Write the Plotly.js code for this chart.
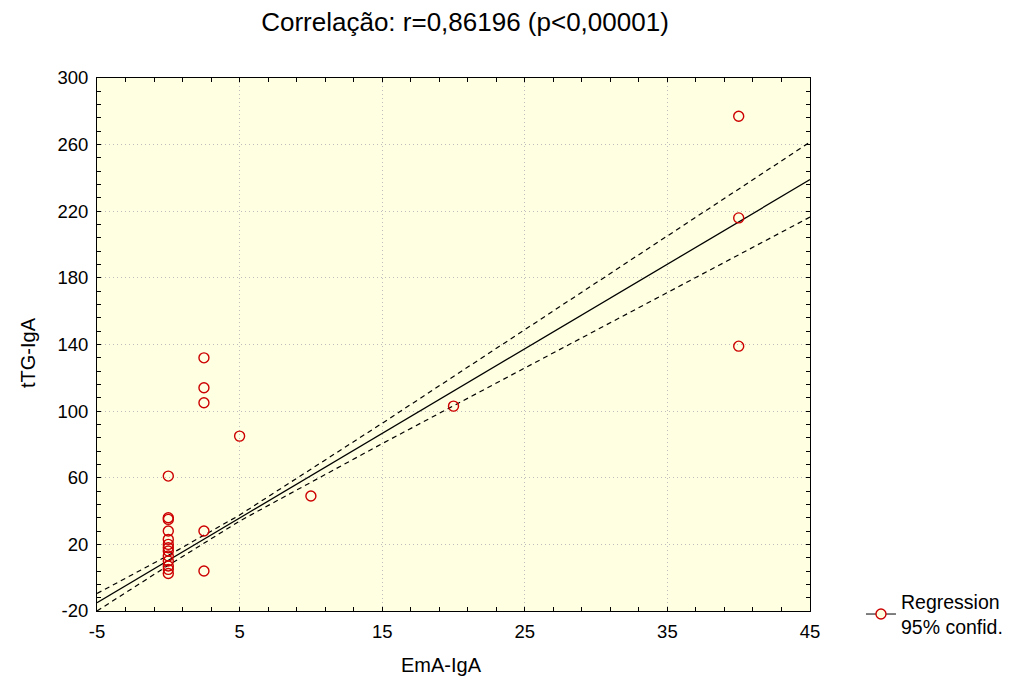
<!DOCTYPE html>
<html>
<head>
<meta charset="utf-8">
<script src="https://cdn.plot.ly/plotly-3.0.1.min.js"></script>
<style>html,body{margin:0;padding:0;background:#fff;}#chart{width:1019px;height:680px;}</style>
</head>
<body>
<div id="chart"></div>
<script>
// Observed data (EmA-IgA vs tTG-IgA)
const emaX = [0,0,0,0,0,0,0,0,0,0,0,0,0, 2.5,2.5,2.5,2.5,2.5, 5, 10, 20, 40,40,40];
const ttgY = [61,36,35,28,23,20,18,16,13,10,7,5,2.5, 132,114,105,28,4, 85, 49, 103, 277,216,139];

// Regression line (read at axis ends)
const regX = [-5, 45];
const regY = [-15, 239];

// 95% confidence band
const bandX = [-5, 0, 5, 15, 25, 35, 45];
const bandUpper = [-9.5, 13.4, 37.6, 92.7, 148.9, 205.2, 261.5];
const bandLower = [-20, 7.4, 34.0, 80.5, 125.9, 171.2, 216.5];

const xTicks = [-5, 5, 15, 25, 35, 45];
const yTicks = [-20, 20, 60, 100, 140, 180, 220, 260, 300];

const titleText = 'Correlação: r=0,86196 (p<0,00001)';
const xTitle = 'EmA-IgA';
const yTitle = 'tTG-IgA';
const legendText = 'Regression<br>95% confid.';

const FONT = 'Liberation Sans, Arial, sans-serif';
const red = '#cc0000';

const traces = [
  {x: bandX, y: bandUpper, mode: 'lines', line: {color: '#000', width: 1.2, dash: '5px,4px'}, showlegend: false, hoverinfo: 'skip'},
  {x: bandX, y: bandLower, mode: 'lines', line: {color: '#000', width: 1.2, dash: '5px,4px'}, showlegend: false, hoverinfo: 'skip'},
  {x: regX, y: regY, mode: 'lines', line: {color: '#000', width: 1.3}, showlegend: false},
  {x: emaX, y: ttgY, mode: 'markers', marker: {symbol: 'circle-open', size: 10, color: red, line: {width: 1.4}}, showlegend: false},
  {x: [null], y: [null], mode: 'lines+markers', name: legendText,
   line: {color: '#000', width: 1}, marker: {symbol: 'circle', size: 10, color: '#ffffe0', line: {color: red, width: 1.4}}, showlegend: true}
];

const layout = {
  width: 1019, height: 680,
  margin: {l: 97, r: 209, t: 78, b: 69, autoexpand: false},
  paper_bgcolor: '#ffffff',
  plot_bgcolor: '#ffffe1',
  font: {family: FONT, size: 18.5, color: '#000'},
  title: {text: titleText, font: {family: FONT, size: 26, color: '#000'},
          xref: 'container', x: 465/1019, xanchor: 'center', yref: 'container', y: 1 - 22/680, yanchor: 'middle'},
  xaxis: {
    range: [-5, 45], tickmode: 'array', tickvals: xTicks, ticktext: xTicks.map(String),
    showline: true, linecolor: '#000', linewidth: 1, mirror: 'ticks',
    ticks: 'inside', ticklen: 4, tickcolor: '#000',
    minor: {dtick: 2, tick0: -5, ticks: 'inside', ticklen: 4, tickcolor: '#000', showgrid: false},
    showgrid: true, gridcolor: '#bdbdbd', griddash: '1px,3px', gridwidth: 1,
    zeroline: false, ticklabelstandoff: 4,
    tickfont: {family: FONT, size: 18.5}
  },
  yaxis: {
    range: [-20, 300], tickmode: 'array', tickvals: yTicks, ticktext: yTicks.map(String),
    showline: true, linecolor: '#000', linewidth: 1, mirror: 'ticks',
    ticks: 'inside', ticklen: 4, tickcolor: '#000',
    minor: {dtick: 8, tick0: -20, ticks: 'inside', ticklen: 4, tickcolor: '#000', showgrid: false},
    showgrid: true, gridcolor: '#bdbdbd', griddash: '1px,3px', gridwidth: 1,
    zeroline: false, ticklabelstandoff: 4,
    tickfont: {family: FONT, size: 18.5}
  },
  annotations: [
    {text: xTitle, xref: 'paper', yref: 'paper', x: (441-97)/713, y: (611-665)/533, xanchor: 'center', yanchor: 'middle',
     showarrow: false, font: {family: FONT, size: 20}},
    {text: yTitle, xref: 'paper', yref: 'paper', x: (28-97)/713, y: (611-353)/533, xanchor: 'center', yanchor: 'middle',
     showarrow: false, textangle: -90, font: {family: FONT, size: 20}}
  ],
  showlegend: true,
  legend: {x: 1.0715, xanchor: 'left', y: -0.066, yanchor: 'bottom', bgcolor: 'rgba(0,0,0,0)',
           font: {family: FONT, size: 19.5}, itemwidth: 30, tracegroupgap: 0}
};

Plotly.newPlot('chart', traces, layout, {displayModeBar: false, staticPlot: true});
</script>
</body>
</html>
